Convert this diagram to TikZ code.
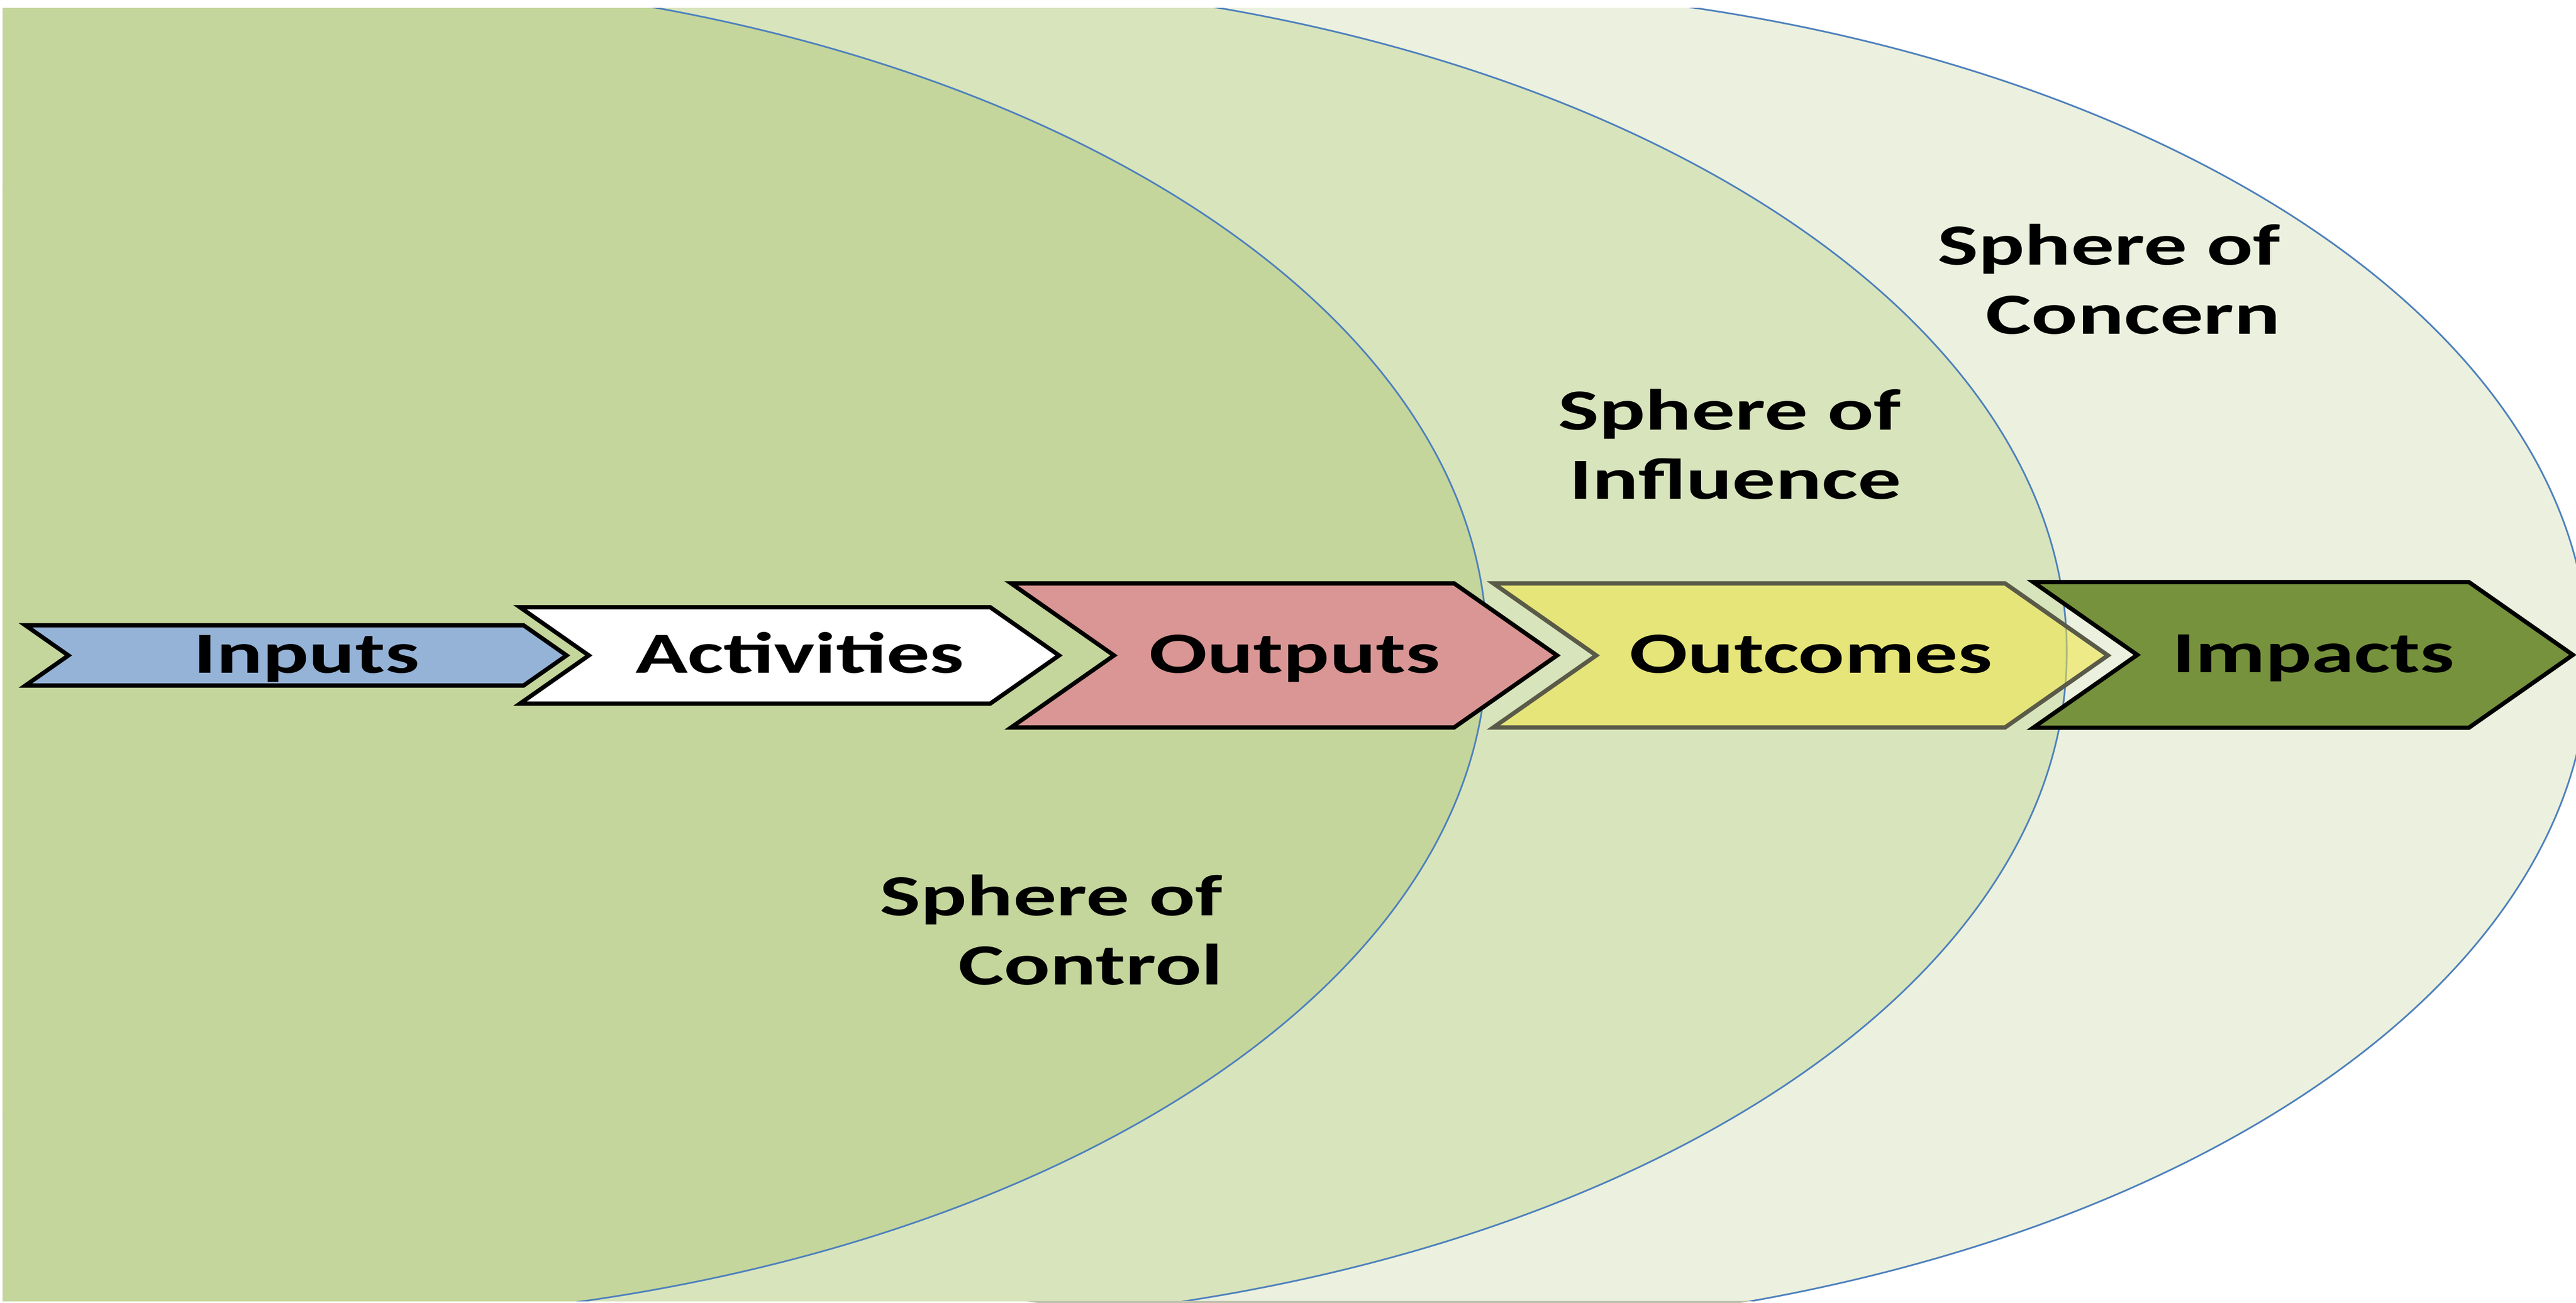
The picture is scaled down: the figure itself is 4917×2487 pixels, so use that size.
\documentclass[tikz,border=0pt]{standalone}
\usepackage{fontspec}
\newfontfamily\spherefont{Carlito}[FakeStretch=1.48]
\usetikzlibrary{shapes.symbols,positioning}

\definecolor{controlfill}{HTML}{C4D69B}
\definecolor{influencefill}{HTML}{D8E4BC}
\definecolor{concernfill}{HTML}{EBF1DE}
\definecolor{rimblue}{HTML}{4F81BD}
\definecolor{edgegrey}{HTML}{BFC3AE}
\definecolor{inputsfill}{HTML}{95B3D7}
\definecolor{outputsfill}{HTML}{DA9694}
\definecolor{outcomesfill}{HTML}{F2E642}
\definecolor{outcomesline}{HTML}{5A5A48}
\definecolor{impactsfill}{HTML}{76923C}

\begin{document}
\begin{tikzpicture}[x=0.05mm, y=-0.05mm]
    \tikzstyle{sphere} = [draw=rimblue, line width=0.45pt]
    \tikzstyle{chevron} = [signal, signal from=west, signal to=east, signal pointer angle=70, draw=black, line width=1.15pt, inner sep=0pt, text height=0.34cm, text depth=0pt, execute at begin node=\hspace*{0.2cm}, font=\spherefont\bfseries\fontsize{15.8}{19}\selectfont]
    \tikzstyle{spheretext} = [align=right, inner sep=0pt, font=\spherefont\bfseries\fontsize{15.8}{18.8}\selectfont]

    \useasboundingbox (0,0) rectangle (4917,2487);
    \fill[white] (0,0) rectangle (4917,2487);

    % spheres, widest reach first
    \begin{scope}
        \clip (5,16) rectangle (4917,2483);
        \filldraw[sphere, fill=concernfill] (2651,1258) ellipse [x radius=2290, y radius=1285];
        \filldraw[sphere, fill=influencefill] (1655,1244) ellipse [x radius=2290, y radius=1285];
        \filldraw[sphere, fill=controlfill] (548,1238) ellipse [x radius=2290, y radius=1285];
    \end{scope}
    \begin{scope}
        \clip (2651,1258) ellipse [x radius=2290, y radius=1285];
        \fill[edgegrey] (5,2483) rectangle (4917,2487);
    \end{scope}

    % results chain
    \node [chevron, fill=inputsfill, minimum width=5.165cm, minimum height=0.575cm] (inputs) at (565,1251) {Inputs};
    \node [chevron, fill=white, minimum width=5.145cm, minimum height=0.92cm] (activities) at (1507,1251) {Activities};
    \node [chevron, fill=outputsfill, minimum width=5.21cm, minimum height=1.375cm] (outputs) at (2451,1251) {Outputs};
    \node [chevron, fill=outcomesfill, fill opacity=0.55, text opacity=1, draw=outcomesline, minimum width=5.865cm, minimum height=1.375cm] (outcomes) at (3437,1251) {Outcomes};
    \node [chevron, fill=impactsfill, minimum width=5.15cm, minimum height=1.39cm] (impacts) at (4396,1250) {Impacts};

    \node [spheretext, anchor=base east] (control) at (2335,1880) {Sphere of\\Control};
    \node [spheretext, anchor=base east] (influence) at (3630,953) {Sphere of\\Influence};
    \node [spheretext, anchor=base east] (concern) at (4354,638) {Sphere of\\Concern};
\end{tikzpicture}
\end{document}
